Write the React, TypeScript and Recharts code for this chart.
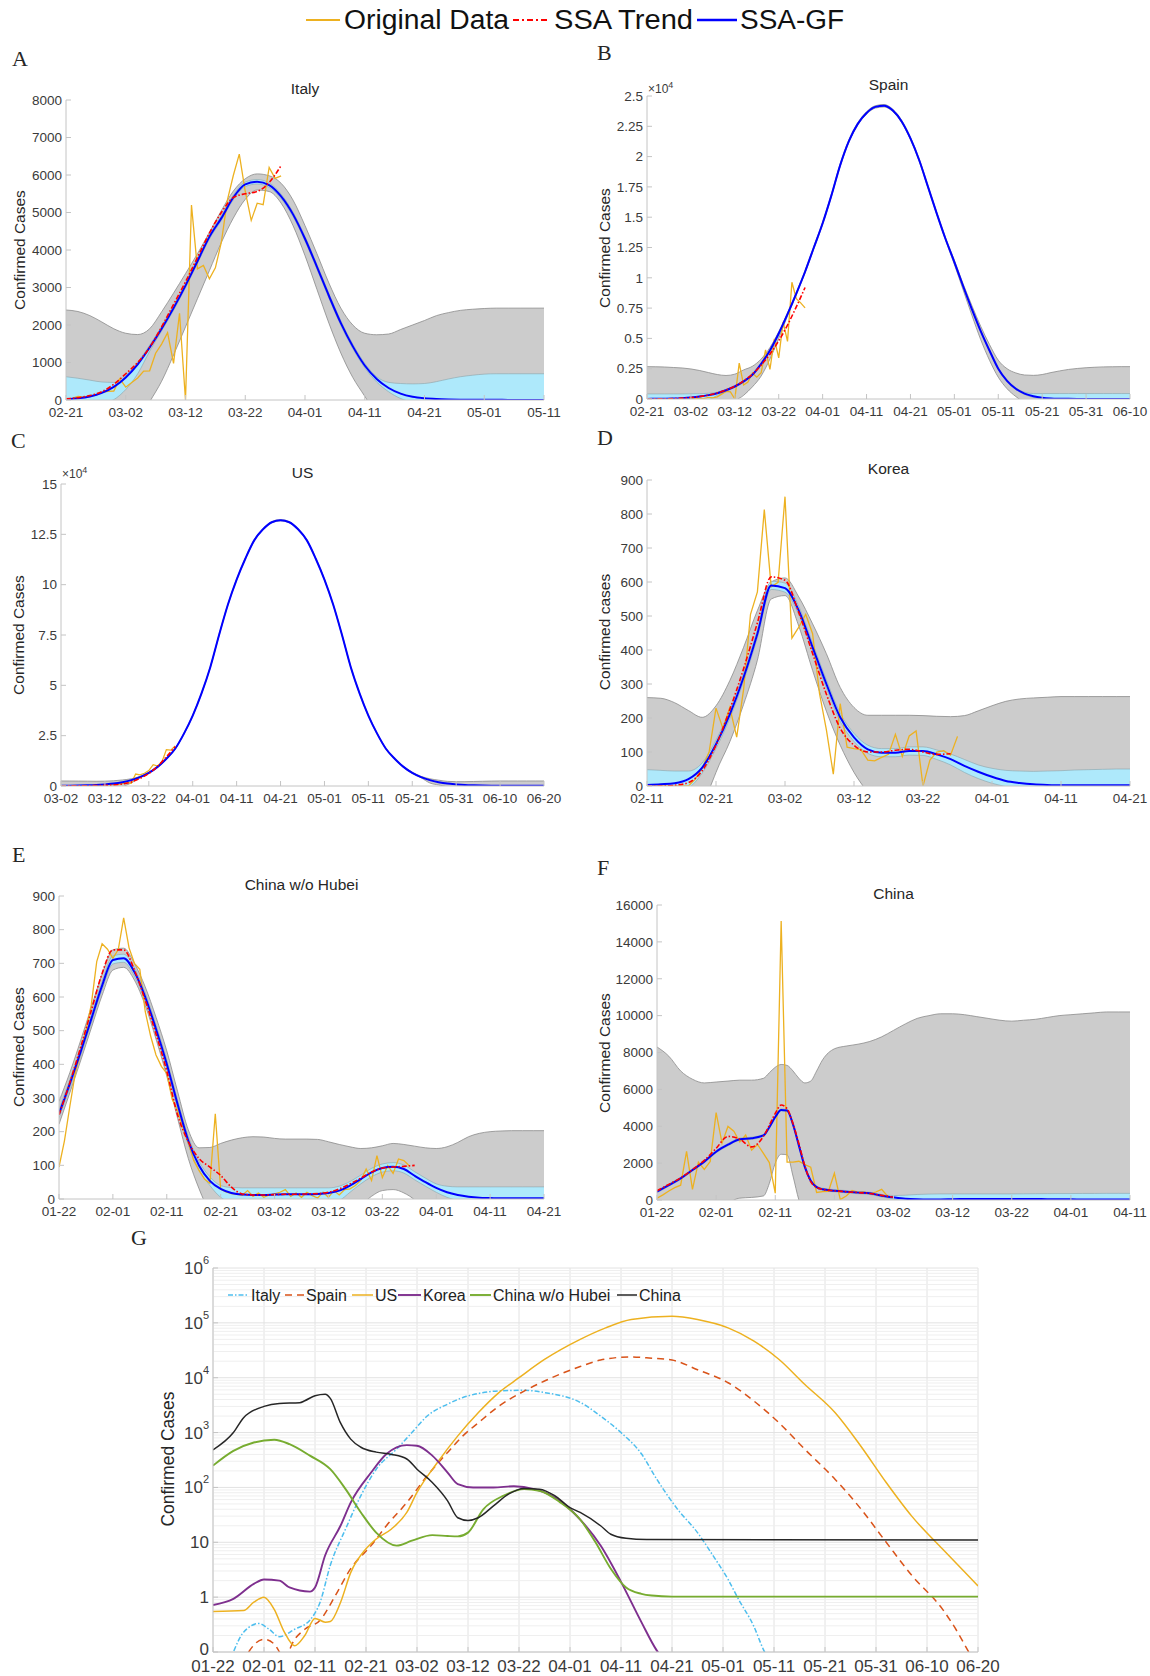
import React from 'react';
import { ComposedChart, Line, Area, XAxis, YAxis, CartesianGrid, ReferenceLine } from 'recharts';

const FONT = '"Liberation Sans", Arial, Helvetica, sans-serif';
const SERIF = '"Liberation Serif", "Times New Roman", serif';

const ORANGE = '#EDB120';
const RED = '#FF0000';
const BLUE = '#0000FF';
const GRAY_FILL = '#cccccc';
const GRAY_EDGE = '#8a8a8a';
const CYAN_FILL = '#aee9fb';
const CYAN_EDGE = '#8aa3aa';
const AXIS = '#c4c4c4';
const TICK_TXT = '#3a3a3a';

// ---------- A: Italy ----------
const italyXLabels = ['02-21', '03-02', '03-12', '03-22', '04-01', '04-11', '04-21', '05-01', '05-11'];
const italyYTicks = [0, 1000, 2000, 3000, 4000, 5000, 6000, 7000, 8000];
const italyDays = [0, 2, 4, 6, 8, 10, 12, 14, 16, 18, 20, 22, 24, 26, 28, 30, 32, 34, 36, 38, 40, 42, 44, 46, 48, 50, 52, 54, 56, 58, 60, 62, 64, 66, 68, 70, 72, 74, 76, 78, 80];
const italyFit = [20, 45, 95, 190, 350, 600, 950, 1400, 1900, 2450, 3050, 3700, 4350, 4850, 5400, 5750, 5820, 5730, 5430, 4950, 4300, 3550, 2780, 2050, 1430, 920, 560, 320, 170, 85, 45, 25, 15, 10, 7, 5, 4, 3, 2, 2, 2];
const italyHi = [2400, 2360, 2250, 2080, 1900, 1780, 1745, 1900, 2350, 2850, 3370, 3900, 4470, 5050, 5570, 5900, 6030, 5980, 5780, 5330, 4650, 3900, 3120, 2450, 2000, 1780, 1740, 1760, 1880, 2000, 2120, 2250, 2330, 2390, 2420, 2440, 2450, 2450, 2450, 2450, 2450];
const italyLo = [-1500, -1500, -1500, -1500, -1400, -1100, -600, -50, 500, 1200, 1950, 2700, 3450, 4200, 4850, 5350, 5600, 5560, 5250, 4650, 3850, 2950, 2050, 1250, 600, 100, -400, -900, -1300, -1500, -1500, -1500, -1500, -1500, -1500, -1500, -1500, -1500, -1500, -1500, -1500];
const italyCHi = [620, 580, 530, 480, 470, 660, 1010, 1460, 1960, 2510, 3110, 3760, 4410, 4910, 5460, 5810, 5880, 5790, 5490, 5010, 4360, 3610, 2840, 2110, 1490, 980, 620, 470, 440, 430, 440, 490, 560, 620, 660, 690, 700, 700, 700, 700, 700];
const italyCLo = [-300, -250, -180, -100, 10, 280, 700, 1300, 1840, 2390, 2990, 3640, 4290, 4790, 5340, 5690, 5760, 5670, 5370, 4890, 4240, 3490, 2720, 1990, 1370, 860, 480, 220, 40, -60, -100, -150, -150, -150, -150, -150, -150, -150, -150, -150, -150];
const italyTrend = [30, 60, 120, 220, 420, 700, 1000, 1400, 1950, 2550, 3150, 3800, 4450, 5000, 5400, 5500, 5560, 5800, 6250];
const italyObs = [17, 42, 93, 74, 93, 131, 202, 233, 240, 566, 342, 466, 587, 769, 778, 1247, 1492, 1797, 977, 2313, 0, 5198, 3497, 3590, 3233, 3526, 4207, 5322, 5986, 6557, 5560, 4789, 5249, 5210, 6203, 5909, 5974];

// ---------- B: Spain ----------
const spainXLabels = ['02-21', '03-02', '03-12', '03-22', '04-01', '04-11', '04-21', '05-01', '05-11', '05-21', '05-31', '06-10'];
const spainYTicks = [0, 2500, 5000, 7500, 10000, 12500, 15000, 17500, 20000, 22500, 25000];
const spainYLabels = ['0', '0.25', '0.5', '0.75', '1', '1.25', '1.5', '1.75', '2', '2.25', '2.5'];
const spainDays = [0, 2, 4, 6, 8, 10, 12, 14, 16, 18, 20, 22, 24, 26, 28, 30, 32, 34, 36, 38, 40, 42, 44, 46, 48, 50, 52, 54, 56, 58, 60, 62, 64, 66, 68, 70, 72, 74, 76, 78, 80, 82, 84, 86, 88, 90, 92, 94, 96, 98, 100, 102, 104, 106, 108, 110];
const spainFit = [10, 15, 25, 40, 70, 120, 200, 320, 480, 720, 1030, 1450, 2000, 2900, 4000, 5400, 7000, 8700, 10500, 12500, 14500, 16800, 19300, 21300, 22700, 23600, 24100, 24200, 23800, 22900, 21500, 19700, 17500, 15300, 13200, 11300, 9300, 7400, 5600, 4000, 2500, 1500, 850, 450, 230, 110, 50, 25, 12, 6, 3, 2, 1, 1, 1, 1];
const spainHi = [2670, 2660, 2640, 2600, 2560, 2480, 2350, 2180, 2020, 1940, 2050, 2400, 2700, 3300, 4250, 5550, 7100, 8800, 10600, 12600, 14600, 16900, 19400, 21400, 22800, 23700, 24200, 24300, 23900, 23000, 21600, 19800, 17600, 15400, 13300, 11450, 9500, 7700, 6000, 4500, 3200, 2500, 2150, 1980, 1950, 2020, 2180, 2320, 2440, 2520, 2580, 2620, 2650, 2660, 2670, 2670];
const spainLo = [-2000, -2000, -2000, -2000, -2000, -2000, -2000, -2000, -2000, -2000, -300, 300, 1000, 1900, 3300, 5000, 6850, 8600, 10400, 12400, 14400, 16700, 19200, 21200, 22600, 23500, 24000, 24100, 23700, 22800, 21400, 19600, 17400, 15200, 13100, 11100, 9000, 6900, 4900, 3200, 1800, 850, 200, -300, -800, -1400, -2000, -2000, -2000, -2000, -2000, -2000, -2000, -2000, -2000, -2000];
const spainCHi = [420, 420, 420, 420, 420, 430, 440, 470, 560, 800, 1110, 1530, 2060, 2950, 4050, 5450, 7050, 8750, 10550, 12550, 14550, 16850, 19350, 21350, 22750, 23650, 24150, 24250, 23850, 22950, 21550, 19750, 17550, 15350, 13250, 11350, 9350, 7450, 5650, 4050, 2560, 1570, 920, 560, 450, 450, 450, 450, 450, 450, 450, 450, 450, 450, 450, 450];
const spainCLo = [-300, -300, -300, -300, -300, -300, -300, -80, 300, 620, 950, 1370, 1940, 2850, 3950, 5350, 6950, 8650, 10450, 12450, 14450, 16750, 19250, 21250, 22650, 23550, 24050, 24150, 23750, 22850, 21450, 19650, 17450, 15250, 13150, 11250, 9250, 7350, 5550, 3950, 2440, 1430, 780, 370, 130, 0, -100, -300, -300, -300, -300, -300, -300, -300, -300, -300];
const spainTrend = [0, 10, 20, 40, 70, 120, 200, 320, 500, 740, 1050, 1500, 2050, 2800, 3700, 4800, 6100, 7600, 9200];
const spainObs = [0, 0, 0, 0, 4, 2, 3, 17, 13, 39, 36, 45, 57, 37, 141, 100, 173, 400, 622, 582, 0, 2955, 1159, 1407, 2144, 1806, 2162, 4053, 2447, 4964, 3394, 6368, 4749, 9630, 8271, 7933, 7516];

// ---------- C: US ----------
const usXLabels = ['03-02', '03-12', '03-22', '04-01', '04-11', '04-21', '05-01', '05-11', '05-21', '05-31', '06-10', '06-20'];
const usYTicks = [0, 25000, 50000, 75000, 100000, 125000, 150000];
const usYLabels = ['0', '2.5', '5', '7.5', '10', '12.5', '15'];
const usDays = [0, 2, 4, 6, 8, 10, 12, 14, 16, 18, 20, 22, 24, 26, 28, 30, 32, 34, 36, 38, 40, 42, 44, 46, 48, 50, 52, 54, 56, 58, 60, 62, 64, 66, 68, 70, 72, 74, 76, 78, 80, 82, 84, 86, 88, 90, 92, 94, 96, 98, 100, 102, 104, 106, 108, 110];
const usFit = [130, 180, 250, 350, 500, 800, 1200, 1900, 2900, 4400, 6500, 9500, 13500, 18500, 26000, 35000, 46000, 59000, 75000, 90000, 102500, 113000, 122000, 127500, 131000, 132000, 131000, 127500, 122000, 113000, 102500, 90000, 75000, 59000, 46000, 35000, 26000, 18500, 13500, 9500, 6500, 4400, 2900, 1900, 1200, 800, 500, 350, 250, 180, 130, 110, 100, 100, 100, 100];
const usHi = [2500, 2480, 2450, 2400, 2350, 2400, 2600, 3000, 3600, 4800, 6850, 9800, 13800, 18800, 26300, 35300, 46300, 59300, 75300, 90300, 102800, 113300, 122300, 127800, 131300, 132300, 131300, 127800, 122300, 113300, 102800, 90300, 75300, 59300, 46300, 35300, 26300, 18800, 13800, 9800, 6850, 4800, 3600, 2900, 2300, 2150, 2150, 2250, 2350, 2450, 2500, 2500, 2500, 2500, 2500, 2500];
const usLo = [-3000, -3000, -3000, -3000, -3000, -3000, -3000, -500, 1500, 4100, 6200, 9200, 13200, 18200, 25700, 34700, 45700, 58700, 74700, 89700, 102200, 112700, 121700, 127200, 130700, 131700, 130700, 127200, 121700, 112700, 102200, 89700, 74700, 58700, 45700, 34700, 25700, 18200, 13200, 9200, 6200, 4100, 1500, 500, -500, -3000, -3000, -3000, -3000, -3000, -3000, -3000, -3000, -3000, -3000, -3000];
const usTrend = [30, 50, 80, 130, 200, 330, 550, 1000, 2000, 3800, 6200, 9800, 14500, 19500];
const usObs = [24, 20, 31, 68, 45, 140, 116, 65, 376, 322, 382, 516, 548, 772, 1133, 1789, 1362, 5964, 5526, 6327, 7676, 10571, 9893, 12038, 18058, 17821, 19821];

// ---------- D: Korea ----------
const koreaXLabels = ['02-11', '02-21', '03-02', '03-12', '03-22', '04-01', '04-11', '04-21'];
const koreaYTicks = [0, 100, 200, 300, 400, 500, 600, 700, 800, 900];
const koreaDays = [0, 2, 4, 6, 8, 10, 12, 14, 16, 18, 20, 22, 24, 26, 28, 30, 32, 34, 36, 38, 40, 42, 44, 46, 48, 50, 52, 54, 56, 58, 60, 62, 64, 66, 68, 70];
const koreaFit = [3, 5, 8, 20, 54, 123, 211, 320, 448, 590, 582, 516, 408, 300, 202, 143, 108, 98, 98, 103, 103, 93, 79, 59, 42, 27, 15, 9, 5, 3, 2, 2, 2, 2, 2, 2];
const koreaHi = [260, 258, 245, 222, 202, 236, 310, 408, 516, 600, 612, 556, 477, 389, 290, 231, 208, 208, 208, 208, 207, 205, 204, 207, 221, 236, 249, 256, 259, 261, 263, 263, 263, 263, 263, 263];
const koreaLo = [-300, -300, -300, -300, -80, 40, 130, 240, 370, 550, 560, 470, 340, 220, 120, 40, -20, -80, -130, -170, -200, -200, -200, -200, -200, -200, -200, -200, -200, -200, -200, -200, -200, -200, -200, -200];
const koreaCHi = [48, 46, 44, 44, 68, 135, 223, 332, 460, 602, 597, 528, 420, 312, 214, 155, 120, 110, 110, 115, 115, 106, 94, 78, 62, 52, 46, 44, 43, 44, 45, 47, 48, 49, 50, 50];
const koreaCLo = [-20, -20, -15, -5, 38, 110, 199, 308, 436, 578, 570, 504, 396, 288, 190, 131, 96, 86, 86, 91, 90, 78, 62, 40, 22, 8, -2, -15, -15, -15, -15, -15, -15, -15, -15, -15];
const koreaTrend = [0, 0, 2, 10, 45, 120, 225, 345, 480, 615, 605, 510, 390, 270, 170, 120, 100, 100, 105, 108, 100, 93, 95];
const koreaObs = [0, 0, 0, 0, 0, 0, 0, 20, 53, 100, 229, 169, 231, 144, 284, 505, 571, 813, 586, 599, 851, 435, 467, 505, 448, 272, 165, 35, 242, 114, 110, 107, 76, 74, 84, 93, 152, 87, 147, 162, 0, 76, 100, 104, 91, 146];

// ---------- E: China w/o Hubei ----------
const chinaWoXLabels = ['01-22', '02-01', '02-11', '02-21', '03-02', '03-12', '03-22', '04-01', '04-11', '04-21'];
const chinaWoYTicks = [0, 100, 200, 300, 400, 500, 600, 700, 800, 900];
const chinaWoDays = [0, 2, 4, 6, 8, 10, 12, 14, 16, 18, 20, 22, 24, 26, 28, 30, 32, 34, 36, 38, 40, 42, 44, 46, 48, 50, 52, 54, 56, 58, 60, 62, 64, 66, 68, 70, 72, 74, 76, 78, 80, 82, 84, 86, 88, 90];
const chinaWoFit = [253, 342, 436, 535, 634, 710, 715, 674, 600, 505, 401, 282, 173, 99, 54, 30, 18, 13, 12, 12, 13, 14, 14, 14, 15, 18, 25, 40, 59, 79, 92, 96, 89, 69, 50, 33, 20, 12, 7, 4, 3, 2, 2, 2, 2, 2];
const chinaWoHi = [290, 375, 470, 570, 668, 740, 745, 700, 630, 540, 440, 320, 205, 152, 153, 165, 175, 182, 185, 184, 180, 178, 178, 178, 177, 170, 162, 155, 150, 152, 158, 165, 162, 157, 152, 150, 155, 168, 185, 195, 200, 202, 203, 203, 203, 203];
const chinaWoLo = [222, 315, 410, 508, 605, 680, 688, 650, 575, 475, 365, 240, 120, 30, -40, -80, -100, -100, -100, -100, -100, -100, -100, -100, -100, -100, -100, -60, -20, 8, 25, 28, 18, -3, -40, -80, -120, -120, -120, -120, -120, -120, -120, -120, -120, -120];
const chinaWoCHi = [265, 354, 448, 547, 646, 722, 727, 686, 612, 517, 413, 294, 185, 111, 66, 40, 34, 33, 33, 33, 33, 33, 33, 33, 33, 33, 38, 52, 71, 91, 104, 108, 101, 81, 62, 45, 38, 36, 36, 36, 36, 36, 36, 36, 36, 36];
const chinaWoCLo = [241, 330, 424, 523, 622, 698, 703, 662, 588, 493, 389, 270, 161, 87, 40, 5, -10, -15, -15, -15, -15, -15, -15, -15, -15, -15, -5, 20, 45, 66, 80, 84, 77, 57, 38, 20, 5, -5, -15, -15, -15, -15, -15, -15, -15, -15];
const chinaWoTrend = [250, 345, 450, 560, 670, 740, 740, 680, 590, 490, 380, 250, 170, 120, 95, 70, 35, 15, 12, 12, 13, 14, 14, 15, 16, 20, 30, 45, 62, 80, 92, 95, 97, 100];
const chinaWoObs = [95, 172, 274, 372, 437, 501, 578, 705, 758, 742, 715, 741, 835, 746, 700, 682, 557, 484, 428, 394, 373, 296, 263, 212, 167, 114, 84, 59, 47, 253, 29, 21, 16, 14, 11, 25, 8, 18, 5, 12, 15, 20, 28, 8, 18, 5, 20, 10, 3, 20, 5, 25, 12, 28, 30, 40, 55, 89, 55, 129, 64, 99, 76, 119, 114, 99];

// ---------- F: China ----------
const chinaXLabels = ['01-22', '02-01', '02-11', '02-21', '03-02', '03-12', '03-22', '04-01', '04-11'];
const chinaYTicks = [0, 2000, 4000, 6000, 8000, 10000, 12000, 14000, 16000];
const chinaDays = [0, 2, 4, 6, 8, 10, 12, 14, 16, 18, 19, 20, 21, 22, 23, 24, 25, 26, 27, 28, 30, 32, 34, 36, 38, 40, 42, 44, 46, 48, 50, 52, 54, 56, 58, 60, 62, 64, 66, 68, 70, 72, 74, 76, 78, 80];
const chinaFit = [450, 810, 1175, 1630, 2080, 2620, 3000, 3300, 3350, 3500, 3950, 4500, 4880, 4850, 4100, 2950, 1800, 1050, 700, 580, 505, 450, 400, 360, 235, 145, 72, 40, 30, 30, 45, 55, 60, 60, 55, 60, 55, 50, 45, 40, 35, 32, 30, 30, 30, 30];
const chinaHi = [8300, 7800, 7000, 6550, 6350, 6400, 6450, 6500, 6500, 6600, 6900, 7200, 7350, 7300, 7000, 6600, 6350, 6450, 7000, 7600, 8200, 8350, 8450, 8600, 8850, 9200, 9550, 9850, 10000, 10100, 10100, 10050, 9950, 9850, 9750, 9700, 9750, 9800, 9900, 10000, 10050, 10100, 10150, 10200, 10200, 10200];
const chinaLo = [-2000, -2000, -2000, -2000, -2000, -1500, -300, 100, 140, 220, 900, 2000, 2480, 2450, 1300, 0, -800, -1500, -2000, -2000, -2000, -2000, -2000, -2000, -2000, -2000, -2000, -2000, -2000, -2000, -2000, -2000, -2000, -2000, -2000, -2000, -2000, -2000, -2000, -2000, -2000, -2000, -2000, -2000, -2000, -2000];
const chinaCHi = [510, 870, 1235, 1690, 2140, 2680, 3060, 3360, 3410, 3560, 4010, 4560, 4940, 4910, 4160, 3010, 1860, 1110, 760, 640, 565, 510, 460, 420, 300, 240, 260, 300, 320, 330, 330, 330, 330, 330, 330, 330, 335, 340, 345, 350, 350, 355, 355, 360, 360, 360];
const chinaCLo = [390, 750, 1115, 1570, 2020, 2560, 2940, 3240, 3290, 3440, 3890, 4440, 4820, 4790, 4040, 2890, 1740, 990, 640, 520, 445, 390, 340, 300, 170, 60, -50, -100, -100, -100, -100, -100, -100, -100, -100, -100, -100, -100, -100, -100, -100, -100, -100, -100, -100, -100];
const chinaTrend = [500, 850, 1200, 1650, 2150, 2800, 3450, 3300, 2880, 3450, 4050, 4700, 5150, 4950, 4150, 3050, 1850, 1000, 680, 580, 500, 450, 400, 350, 250, 150];
const chinaObs = [95, 277, 486, 669, 802, 2632, 578, 2054, 1661, 2089, 4739, 3086, 3991, 3733, 3147, 3523, 2704, 3015, 2525, 2032, 373, 15136, 2050, 2055, 2100, 1921, 1777, 408, 458, 473, 1451, 21, 219, 513, 410, 439, 331, 433, 579, 206, 130];

// ---------- G: all countries, log scale ----------
const gXLabels = ['01-22', '02-01', '02-11', '02-21', '03-02', '03-12', '03-22', '04-01', '04-11', '04-21', '05-01', '05-11', '05-21', '05-31', '06-10', '06-20'];
const gYTicks = [0.1, 1, 10, 100, 1000, 10000, 100000, 1000000];
const gItalyDays = [2, 4, 6, 9, 11, 13, 16, 19, 21, 23, 26, 29, 32, 36, 39, 42, 46, 49, 52, 56, 61, 65, 72, 76, 80, 84, 87, 91, 95, 98, 101, 103, 106, 108, 110];
const gItalyVals = [0.03, 0.1, 0.23, 0.33, 0.26, 0.19, 0.26, 0.38, 0.81, 3.8, 17.5, 71, 215, 500, 1000, 2000, 3300, 4350, 5150, 5750, 5900, 5350, 3550, 2000, 1000, 410, 142, 41, 15, 5.8, 2.1, 0.93, 0.3, 0.107, 0.05];
const gSpainDays = [5, 7, 10, 12, 14, 16, 18, 21, 24, 27, 31, 34, 38, 42, 46, 49, 52, 56, 61, 65, 72, 76, 82, 85, 90, 95, 101, 106, 111, 116, 122, 127, 132, 137, 143, 146, 148, 150];
const gSpainVals = [0.04, 0.1, 0.17, 0.14, 0.08, 0.17, 0.26, 0.38, 1.07, 3.3, 8.7, 20, 53, 163, 435, 870, 1500, 3000, 5700, 8700, 16000, 21000, 24000, 23000, 21000, 14000, 8100, 3800, 1500, 500, 140, 41, 10, 2.5, 0.61, 0.23, 0.107, 0.05];
const gUsDays = [0, 6, 8, 10, 12, 14, 16, 18, 20, 22, 23, 25, 27, 30, 32, 35, 38, 40, 44, 48, 52, 56, 60, 65, 72, 77, 82, 90, 95, 101, 106, 111, 116, 122, 127, 132, 137, 143, 148, 150];
const gUsVals = [0.55, 0.57, 0.81, 1.0, 0.6, 0.23, 0.13, 0.2, 0.41, 0.35, 0.36, 0.8, 2.8, 7.6, 11.5, 17.5, 35, 81, 285, 870, 2300, 5300, 10000, 21500, 50000, 81000, 115000, 132000, 115000, 81000, 47000, 21500, 7600, 2300, 570, 123, 30, 7.6, 2.5, 1.6];
const gKoreaDays = [0, 4, 8, 10, 13, 15, 19, 20, 22, 25, 27, 31, 34, 38, 40, 43, 46, 48, 51, 55, 59, 63, 67, 72, 76, 80, 84, 87, 88];
const gKoreaVals = [0.72, 0.93, 1.74, 2.1, 2.0, 1.5, 1.26, 1.5, 5.8, 20, 53, 187, 406, 590, 575, 380, 187, 115, 100, 100, 105, 93, 66, 26, 8.7, 1.9, 0.35, 0.107, 0.08];
const gChinaWoDays = [0, 4, 8, 12, 15, 19, 23, 26, 29, 32, 36, 39, 43, 46, 48, 50, 53, 57, 61, 64, 68, 72, 75, 78, 81, 84, 86, 90, 150];
const gChinaWoVals = [250, 465, 660, 740, 615, 380, 215, 93, 35, 15, 8.7, 10.7, 13.5, 13, 12.8, 15, 40, 71, 93, 87, 54, 26, 10, 3.3, 1.5, 1.15, 1.07, 1.02, 1.02];
const gChinaDays = [0, 4, 6, 10, 13, 17, 18, 20, 22, 23, 25, 27, 29, 32, 35, 38, 40, 43, 46, 48, 50, 52, 55, 58, 61, 64, 67, 70, 72, 76, 78, 81, 85, 150];
const gChinaVals = [484, 1000, 1870, 3000, 3400, 3500, 3800, 4700, 5000, 4200, 1500, 760, 540, 440, 400, 330, 215, 123, 57, 28, 25, 28, 46, 76, 96, 93, 71, 43, 35, 20, 14, 11.8, 11.2, 11];

type Box = { left: number; top: number; right: number; bottom: number };

const MT = 10;
const MR = 30;
const YW = 60;
const XH = 30;

function fitTable(days: number[], fit: number[], lo: number[], hi: number[], cLo: number[] | null, cHi: number[] | null, trend: number[]) {
  return days.map((x, i) => ({
    x,
    fit: fit[i],
    lo: lo[i],
    hi: hi[i],
    cLo: cLo ? cLo[i] : null,
    cHi: cHi ? cHi[i] : null,
    trend: i < trend.length ? trend[i] : undefined,
  }));
}

const obsTable = (obs: number[]) => obs.map((y, x) => ({ x, obs: y }));
const logTable = (days: number[], vals: number[]) => days.map((x, i) => ({ x, y: vals[i] }));

interface PanelProps {
  box: Box;
  xMax: number;
  xLabels: string[];
  yTicks: number[];
  yLabels?: string[];
  rows: any[];
  obs: any[];
  cyan: boolean;
}

const tickStyle = { fontSize: 13.5, fill: TICK_TXT, fontFamily: FONT };

function Panel({ box, xMax, xLabels, yTicks, yLabels, rows, obs, cyan }: PanelProps) {
  const w = box.right - box.left + YW + MR;
  const h = box.bottom - box.top + MT + XH;
  const xTicks = xLabels.map((_, i) => i * 10);
  const yMax = yTicks[yTicks.length - 1];
  return (
    <div style={{ position: 'absolute', left: box.left - YW, top: box.top - MT }}>
      <ComposedChart width={w} height={h} data={rows} margin={{ top: MT, right: MR, left: 0, bottom: 0 }}>
        <XAxis
          dataKey="x"
          type="number"
          domain={[0, xMax]}
          ticks={xTicks}
          interval={0}
          allowDataOverflow
          height={XH}
          tickFormatter={(v: number) => xLabels[Math.round(v / 10)]}
          tick={tickStyle}
          tickSize={-5}
          tickMargin={12}
          stroke={AXIS}
        />
        <XAxis xAxisId="t" orientation="top" type="number" domain={[0, xMax]} ticks={xTicks} interval={0} allowDataOverflow height={0} tick={false} tickSize={-5} stroke={AXIS} />
        <YAxis
          type="number"
          domain={[0, yMax]}
          ticks={yTicks}
          interval={0}
          allowDataOverflow
          width={YW}
          tickFormatter={(v: number, i: number) => (yLabels ? yLabels[i] : String(v))}
          tick={tickStyle}
          tickSize={-5}
          tickMargin={9}
          stroke={AXIS}
        />
        <YAxis yAxisId="r" orientation="right" type="number" domain={[0, yMax]} ticks={yTicks} interval={0} allowDataOverflow width={0} tick={false} tickSize={-5} stroke={AXIS} />
        <Area
          type="monotone"
          dataKey={(r: any) => [r.lo, r.hi]}
          stroke={GRAY_EDGE}
          strokeWidth={0.8}
          fill={GRAY_FILL}
          fillOpacity={1}
          dot={false}
          activeDot={false}
          isAnimationActive={false}
        />
        {cyan && (
          <Area
            type="monotone"
            dataKey={(r: any) => [r.cLo, r.cHi]}
            stroke={CYAN_EDGE}
            strokeWidth={0.6}
            fill={CYAN_FILL}
            fillOpacity={1}
            dot={false}
            activeDot={false}
            isAnimationActive={false}
          />
        )}
        <Line data={obs} type="linear" dataKey="obs" stroke={ORANGE} strokeWidth={1.3} dot={false} activeDot={false} isAnimationActive={false} />
        <Line type="monotone" dataKey="fit" stroke={BLUE} strokeWidth={2} dot={false} activeDot={false} isAnimationActive={false} />
        <Line type="monotone" dataKey="trend" stroke={RED} strokeWidth={1.6} strokeDasharray="5 2 1.5 2" dot={false} activeDot={false} isAnimationActive={false} />
      </ComposedChart>
    </div>
  );
}

function LogTick(props: any) {
  const { x, y, payload } = props;
  const e = Math.round(Math.log10(payload.value));
  return (
    <text x={x} y={e < 0 ? y - 3 : y} textAnchor="end" dominantBaseline="central" fontSize={17} fill={TICK_TXT} fontFamily={FONT}>
      {e >= 2 ? (
        <>
          <tspan>10</tspan>
          <tspan dy={-8} fontSize={11}>
            {e}
          </tspan>
        </>
      ) : e === 1 ? (
        '10'
      ) : e === 0 ? (
        '1'
      ) : (
        '0'
      )}
    </text>
  );
}

const gBox: Box = { left: 213, top: 1268, right: 978, bottom: 1652 };
const GMT = 24;
const minorValues: number[] = [];
for (let k = -1; k <= 5; k++) {
  for (let m = 2; m <= 9; m++) minorValues.push(m * Math.pow(10, k));
}

const gSeries = [
  { name: 'Italy', rows: logTable(gItalyDays, gItalyVals), color: '#4DBEEE', dash: '5 2 1.5 2', width: 1.5 },
  { name: 'Spain', rows: logTable(gSpainDays, gSpainVals), color: '#D95319', dash: '7 5', width: 1.5 },
  { name: 'US', rows: logTable(gUsDays, gUsVals), color: '#EDB120', dash: undefined, width: 1.5 },
  { name: 'Korea', rows: logTable(gKoreaDays, gKoreaVals), color: '#7E2F8E', dash: undefined, width: 1.9 },
  { name: 'China w/o Hubei', rows: logTable(gChinaWoDays, gChinaWoVals), color: '#77AC30', dash: undefined, width: 1.9 },
  { name: 'China', rows: logTable(gChinaDays, gChinaVals), color: '#262626', dash: undefined, width: 1.5 },
];

function GPanel() {
  const w = gBox.right - gBox.left + YW + MR;
  const h = gBox.bottom - gBox.top + GMT + XH;
  const xTicks = gXLabels.map((_, i) => i * 10);
  return (
    <div style={{ position: 'absolute', left: gBox.left - YW, top: gBox.top - GMT }}>
      <ComposedChart width={w} height={h} margin={{ top: GMT, right: MR, left: 0, bottom: 0 }}>
        <CartesianGrid stroke="#e2e2e2" />
        {minorValues.map((v) => (
          <ReferenceLine key={v} y={v} stroke="#efefef" strokeWidth={1} />
        ))}
        <XAxis
          dataKey="x"
          type="number"
          domain={[0, 150]}
          ticks={xTicks}
          interval={0}
          allowDataOverflow
          height={XH}
          tickFormatter={(v: number) => gXLabels[Math.round(v / 10)]}
          tick={{ fontSize: 17, fill: TICK_TXT, fontFamily: FONT }}
          tickSize={-5}
          tickMargin={13}
          stroke={AXIS}
        />
        <XAxis xAxisId="t" orientation="top" type="number" domain={[0, 150]} ticks={xTicks} interval={0} allowDataOverflow height={0} tick={false} tickSize={-5} stroke={AXIS} />
        <YAxis scale="log" type="number" domain={[0.1, 1000000]} ticks={gYTicks} interval={0} allowDataOverflow width={YW} tick={<LogTick />} tickSize={-5} tickMargin={9} stroke={AXIS} />
        <YAxis yAxisId="r" orientation="right" scale="log" type="number" domain={[0.1, 1000000]} ticks={gYTicks} interval={0} allowDataOverflow width={0} tick={false} tickSize={-5} stroke={AXIS} />
        {gSeries.map((s) => (
          <Line
            key={s.name}
            name={s.name}
            data={s.rows}
            dataKey="y"
            type="monotone"
            stroke={s.color}
            strokeWidth={s.width}
            strokeDasharray={s.dash}
            dot={false}
            activeDot={false}
            isAnimationActive={false}
          />
        ))}
      </ComposedChart>
    </div>
  );
}

function TopLegend() {
  return (
    <svg width={1150} height={40} style={{ position: 'absolute', left: 0, top: 0 }}>
      <line x1={306} x2={340} y1={20} y2={20} stroke={ORANGE} strokeWidth={2.2} />
      <text x={344} y={20} dominantBaseline="central" fontSize={27} fontFamily={FONT} fill="#111" textLength={165} lengthAdjust="spacingAndGlyphs">
        Original Data
      </text>
      <line x1={513} x2={550} y1={20} y2={20} stroke={RED} strokeWidth={2.2} strokeDasharray="6 3 2 3" />
      <text x={554} y={20} dominantBaseline="central" fontSize={27} fontFamily={FONT} fill="#111" textLength={139} lengthAdjust="spacingAndGlyphs">
        SSA Trend
      </text>
      <line x1={697} x2={737} y1={20} y2={20} stroke={BLUE} strokeWidth={2.5} />
      <text x={740} y={20} dominantBaseline="central" fontSize={27} fontFamily={FONT} fill="#111" textLength={104} lengthAdjust="spacingAndGlyphs">
        SSA-GF
      </text>
    </svg>
  );
}

const gLegendItems = [
  { label: 'Italy', x1: 228, x2: 249, tx: 251 },
  { label: 'Spain', x1: 285, x2: 304, tx: 306 },
  { label: 'US', x1: 352, x2: 373, tx: 375 },
  { label: 'Korea', x1: 398, x2: 421, tx: 423 },
  { label: 'China w/o Hubei', x1: 470, x2: 491, tx: 493 },
  { label: 'China', x1: 617, x2: 637, tx: 639 },
];

function GLegend() {
  return (
    <svg width={1150} height={30} style={{ position: 'absolute', left: 0, top: 1280 }}>
      {gLegendItems.map((it, i) => (
        <g key={it.label}>
          <line x1={it.x1} x2={it.x2} y1={15} y2={15} stroke={gSeries[i].color} strokeWidth={gSeries[i].width} strokeDasharray={gSeries[i].dash} />
          <text x={it.tx} y={15} dominantBaseline="central" fontSize={16} fontFamily={FONT} fill="#222">
            {it.label}
          </text>
        </g>
      ))}
    </svg>
  );
}

function Txt({ x, y, text, size, center = true, rotate = false, serif = false }: any) {
  const tx = center ? '-50%' : '0';
  return (
    <div
      style={{
        position: 'absolute',
        left: x,
        top: y,
        transform: `translate(${tx}, -50%)${rotate ? ' rotate(-90deg)' : ''}`,
        fontSize: size,
        lineHeight: 1,
        whiteSpace: 'nowrap',
        color: '#262626',
        fontFamily: serif ? SERIF : FONT,
      }}
    >
      {text}
    </div>
  );
}

function Exp({ x, y }: { x: number; y: number }) {
  return (
    <div style={{ position: 'absolute', left: x, top: y, transform: 'translate(0, -50%)', fontSize: 12, lineHeight: 1, color: '#3a3a3a', fontFamily: FONT, whiteSpace: 'nowrap' }}>
      ×10<span style={{ fontSize: 9, verticalAlign: 'super' }}>4</span>
    </div>
  );
}

const boxA: Box = { left: 66, top: 100, right: 544, bottom: 400 };
const boxB: Box = { left: 647, top: 96, right: 1130, bottom: 399 };
const boxC: Box = { left: 61, top: 484, right: 544, bottom: 786 };
const boxD: Box = { left: 647, top: 480, right: 1130, bottom: 786 };
const boxE: Box = { left: 59, top: 896, right: 544, bottom: 1199 };
const boxF: Box = { left: 657, top: 905, right: 1130, bottom: 1200 };

const title = (b: Box, t: string) => <Txt x={(b.left + b.right) / 2} y={b.top - 11} text={t} size={15.5} />;

export default function App() {
  return (
    <div style={{ position: 'absolute', left: 0, top: 0, width: 1150, height: 1676, background: '#fff', overflow: 'hidden', fontFamily: FONT }}>
      <TopLegend />

      <Panel box={boxA} xMax={80} xLabels={italyXLabels} yTicks={italyYTicks} rows={fitTable(italyDays, italyFit, italyLo, italyHi, italyCLo, italyCHi, italyTrend)} obs={obsTable(italyObs)} cyan />
      <Panel box={boxB} xMax={110} xLabels={spainXLabels} yTicks={spainYTicks} yLabels={spainYLabels} rows={fitTable(spainDays, spainFit, spainLo, spainHi, spainCLo, spainCHi, spainTrend)} obs={obsTable(spainObs)} cyan />
      <Panel box={boxC} xMax={110} xLabels={usXLabels} yTicks={usYTicks} yLabels={usYLabels} rows={fitTable(usDays, usFit, usLo, usHi, null, null, usTrend)} obs={obsTable(usObs)} cyan={false} />
      <Panel box={boxD} xMax={70} xLabels={koreaXLabels} yTicks={koreaYTicks} rows={fitTable(koreaDays, koreaFit, koreaLo, koreaHi, koreaCLo, koreaCHi, koreaTrend)} obs={obsTable(koreaObs)} cyan />
      <Panel box={boxE} xMax={90} xLabels={chinaWoXLabels} yTicks={chinaWoYTicks} rows={fitTable(chinaWoDays, chinaWoFit, chinaWoLo, chinaWoHi, chinaWoCLo, chinaWoCHi, chinaWoTrend)} obs={obsTable(chinaWoObs)} cyan />
      <Panel box={boxF} xMax={80} xLabels={chinaXLabels} yTicks={chinaYTicks} rows={fitTable(chinaDays, chinaFit, chinaLo, chinaHi, chinaCLo, chinaCHi, chinaTrend)} obs={obsTable(chinaObs)} cyan />
      <GPanel />
      <GLegend />

      {title(boxA, 'Italy')}
      {title(boxB, 'Spain')}
      {title(boxC, 'US')}
      {title(boxD, 'Korea')}
      {title(boxE, 'China w/o Hubei')}
      {title(boxF, 'China')}

      <Exp x={648} y={88} />
      <Exp x={62} y={473} />

      <Txt x={20} y={250} text="Confirmed Cases" size={15.5} rotate />
      <Txt x={605} y={248} text="Confirmed Cases" size={15.5} rotate />
      <Txt x={19} y={635} text="Confirmed Cases" size={15.5} rotate />
      <Txt x={605} y={632} text="Confirmed cases" size={15.5} rotate />
      <Txt x={19} y={1047} text="Confirmed Cases" size={15.5} rotate />
      <Txt x={605} y={1053} text="Confirmed Cases" size={15.5} rotate />
      <Txt x={169} y={1459} text="Confirmed Cases" size={17.5} rotate />

      <Txt x={12} y={59} text="A" size={22} center={false} serif />
      <Txt x={597} y={53} text="B" size={22} center={false} serif />
      <Txt x={11} y={441} text="C" size={22} center={false} serif />
      <Txt x={597} y={438} text="D" size={22} center={false} serif />
      <Txt x={12} y={855} text="E" size={22} center={false} serif />
      <Txt x={597} y={868} text="F" size={22} center={false} serif />
      <Txt x={131} y={1238} text="G" size={22} center={false} serif />
    </div>
  );
}
